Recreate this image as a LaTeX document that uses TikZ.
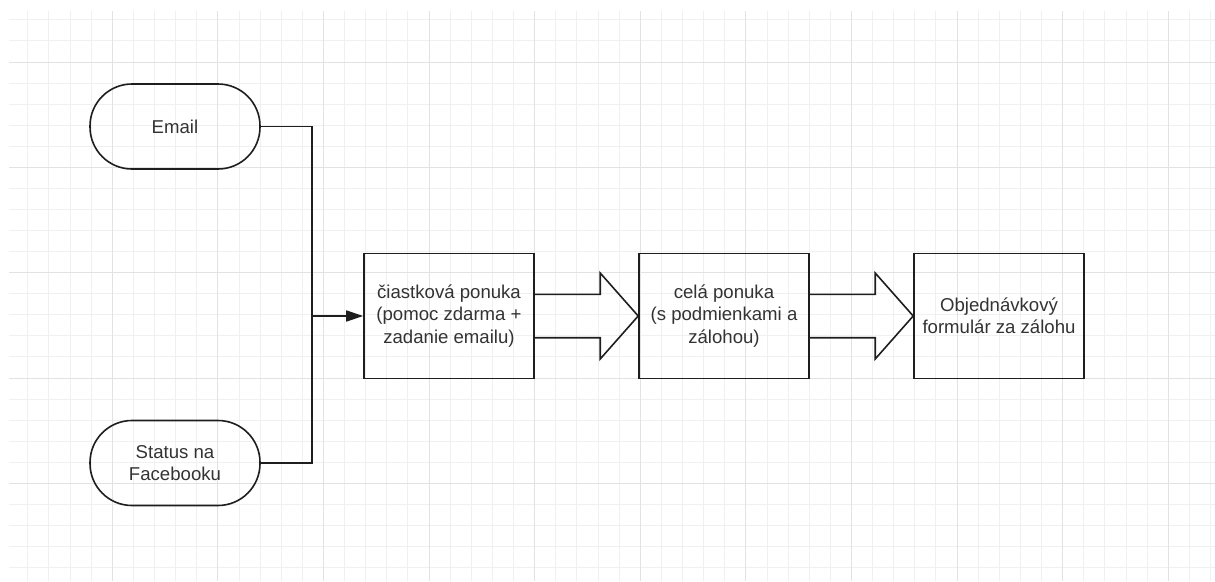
\documentclass[tikz,border=0pt]{standalone}
\usepackage{fontspec}
\setmainfont{Liberation Sans}
\usetikzlibrary{positioning,arrows.meta,calc}
\definecolor{gridminor}{HTML}{F0F0F0}
\definecolor{gridmajor}{HTML}{E2E2E2}
\definecolor{inkc}{HTML}{1E1E1E}
\definecolor{textc}{HTML}{333333}

% wide hollow arrow between two boxes
\newcommand\fatarrow[2]{%
  \draw[bigarrow] ($(#1.east)+(0,-21.7)$) -- ($(#2.west)+(-38,-21.7)$)
    -- ($(#2.west)+(-38,-43)$) -- (#2.west) -- ($(#2.west)+(-38,43)$)
    -- ($(#2.west)+(-38,21.7)$) -- ($(#1.east)+(0,21.7)$);}

\begin{document}
\begin{tikzpicture}[x=1pt, y=-1pt,
  terminal/.style={draw=inkc, line width=1.6pt, rounded corners=42pt,
                   minimum width=170pt, minimum height=85pt, inner sep=0pt,
                   align=center, text=textc, font=\fontsize{18.6}{22.3}\selectfont},
  stepbox/.style={draw=inkc, line width=1.6pt, minimum width=170pt,
                  minimum height=125pt, inner sep=0pt, align=center,
                  text=textc, font=\fontsize{18.6}{22.3}\selectfont},
  wire/.style={draw=inkc, line width=1.6pt},
  bigarrow/.style={draw=inkc, line width=1.6pt, line join=miter},
  node distance=103.4pt
]
\useasboundingbox (0,0) rectangle (1215,581);
% ---- background grid ----
\foreach \k in {-4,...,52}{
  \draw[gridminor, line width=1pt] ({112.3+21.12*\k},11) -- ({112.3+21.12*\k},581);}
\foreach \k in {-2,...,24}{
  \draw[gridminor, line width=1pt] (9,{62+21.07*\k}) -- (1215,{62+21.07*\k});}
\foreach \m in {0,...,10}{
  \draw[gridmajor, line width=1pt] ({112.3+105.6*\m},11) -- ({112.3+105.6*\m},581);}
\foreach \m in {0,...,4}{
  \draw[gridmajor, line width=1pt] (9,{62+105.35*\m}) -- (1215,{62+105.35*\m});}

% ---- sources ----
\node[terminal] (email) at (175,126.5) {Email};
\node[terminal] (status) at (175,463) {Status na\\Facebooku};

% ---- steps ----
\node[stepbox] (partial) at (449,316) {čiastková ponuka\\(pomoc zdarma +\\zadanie emailu)};
\node[stepbox, right=of partial] (full) {celá ponuka\\(s podmienkami a\\zálohou)};
\node[stepbox, right=of full] (order) {Objednávkový\\formulár za zálohu};

% ---- connectors ----
\coordinate (join) at (312,316);
\draw[wire] (email.east) -| (join);
\draw[wire] (status.east) -| (join);
\draw[wire, -{Triangle[length=17pt,width=11pt]}] (join) -- (partial.west);
\fatarrow{partial}{full}
\fatarrow{full}{order}
\end{tikzpicture}
\end{document}
